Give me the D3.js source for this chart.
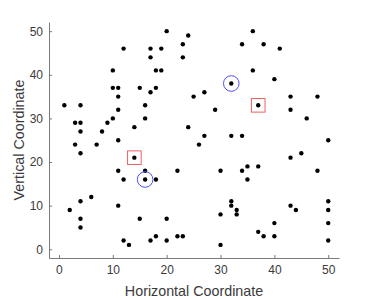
<!DOCTYPE html>
<html>
<head>
<meta charset="utf-8">
<script src="https://cdn.jsdelivr.net/npm/d3@7"></script>
<style>
  body { margin: 0; background: #fff; }
  text { font-family: "Liberation Sans", Arial, sans-serif; }
</style>
</head>
<body>
<div id="chart"></div>
<script>
// data
var xs = [12,10,10,11,15,11,1,4,16,11,10,16,3,4,9,14,4,8,11,
          20,24,34,17,19,23,17,23,18,19,32,18,17,27,25,29,24,27,32,34,
          36,38,41,36,40,43,48,37,43,46,50,
          3,7,4,14,11,16,12,16,6,4,11,2,4,15,4,12,13,
          26,22,30,34,18,32,32,33,33,30,20,17,18,20,22,23,30,
          45,43,35,37,35,48,43,44,50,50,40,50,37,38,40,50];
var ys = [46,41,37,37,37,35,33,33,33,32,30,30,29,29,29,28,27,27,25,
          50,49,47,46,46,47,44,44,41,41,38,37,36,36,35,32,28,26,26,26,
          50,47,46,41,39,35,35,33,32,30,25,
          24,24,22,21,18,18,16,16,12,11,10,9,7,7,5,2,1,
          24,18,18,18,16,11,10,9,8,8,7,2,3,2,3,3,1,
          22,21,19,19,16,18,10,9,11,9,6,6,4,3,3,2];
var circled = [[16, 16], [32, 38]];
var boxed = [[14, 21], [37, 33]];
var xTicks = [0, 10, 20, 30, 40, 50];
var yTicks = [0, 10, 20, 30, 40, 50];
var xLabel = "Horizontal Coordinate";
var yLabel = "Vertical Coordinate";

var width = 374, height = 299;
var margin = {top: 22, right: 35, bottom: 41, left: 49};
var w = width - margin.left - margin.right;
var h = height - margin.top - margin.bottom;

var svg = d3.select("#chart").append("svg")
    .attr("width", width)
    .attr("height", height);

var g = svg.append("g")
    .attr("transform", "translate(" + margin.left + "," + margin.top + ")");

var x = d3.scaleLinear().domain([-1.85, 52]).range([0, w]);
var y = d3.scaleLinear().domain([-2, 52.1]).range([h, 0]);

// axes, ticks pointing inwards
var xAxis = g.append("g")
    .attr("transform", "translate(0," + h + ")")
    .call(d3.axisBottom(x).tickValues(xTicks).tickSizeInner(-3).tickSizeOuter(0).tickPadding(7));
var yAxis = g.append("g")
    .call(d3.axisLeft(y).tickValues(yTicks).tickSizeInner(-3).tickSizeOuter(0).tickPadding(6));

[xAxis, yAxis].forEach(function (a) {
  a.select(".domain").attr("stroke", "#7a7a7a");
  a.selectAll(".tick line").attr("stroke", "#7a7a7a");
  a.selectAll(".tick text")
      .attr("fill", "#3a3a3a")
      .style("font-size", "12px")
      .style("font-family", "'Liberation Sans', Arial, sans-serif");
});

g.append("text")
    .attr("x", w / 2)
    .attr("y", h + 38)
    .attr("text-anchor", "middle")
    .attr("fill", "#3a3a3a")
    .style("font-size", "14.3px")
    .text(xLabel);

g.append("text")
    .attr("transform", "translate(" + (-25) + "," + (h / 2) + ") rotate(-90)")
    .attr("text-anchor", "middle")
    .attr("fill", "#3a3a3a")
    .style("font-size", "14.3px")
    .text(yLabel);

var pts = d3.range(xs.length).map(function (i) { return [xs[i], ys[i]]; });

g.selectAll(".dot")
    .data(pts)
  .enter().append("circle")
    .attr("class", "dot")
    .attr("cx", function (d) { return x(d[0]); })
    .attr("cy", function (d) { return y(d[1]); })
    .attr("r", 2.2)
    .attr("fill", "#000");

g.selectAll(".ring")
    .data(circled)
  .enter().append("circle")
    .attr("class", "ring")
    .attr("cx", function (d) { return x(d[0]); })
    .attr("cy", function (d) { return y(d[1]); })
    .attr("r", 7.8)
    .attr("fill", "none")
    .attr("stroke", "#4d4dff")
    .attr("stroke-width", 1);

g.selectAll(".box")
    .data(boxed)
  .enter().append("rect")
    .attr("class", "box")
    .attr("x", function (d) { return x(d[0]) - 6.8; })
    .attr("y", function (d) { return y(d[1]) - 6.8; })
    .attr("width", 13.6)
    .attr("height", 13.6)
    .attr("fill", "none")
    .attr("stroke", "#f06060")
    .attr("stroke-width", 1);
</script>
</body>
</html>
